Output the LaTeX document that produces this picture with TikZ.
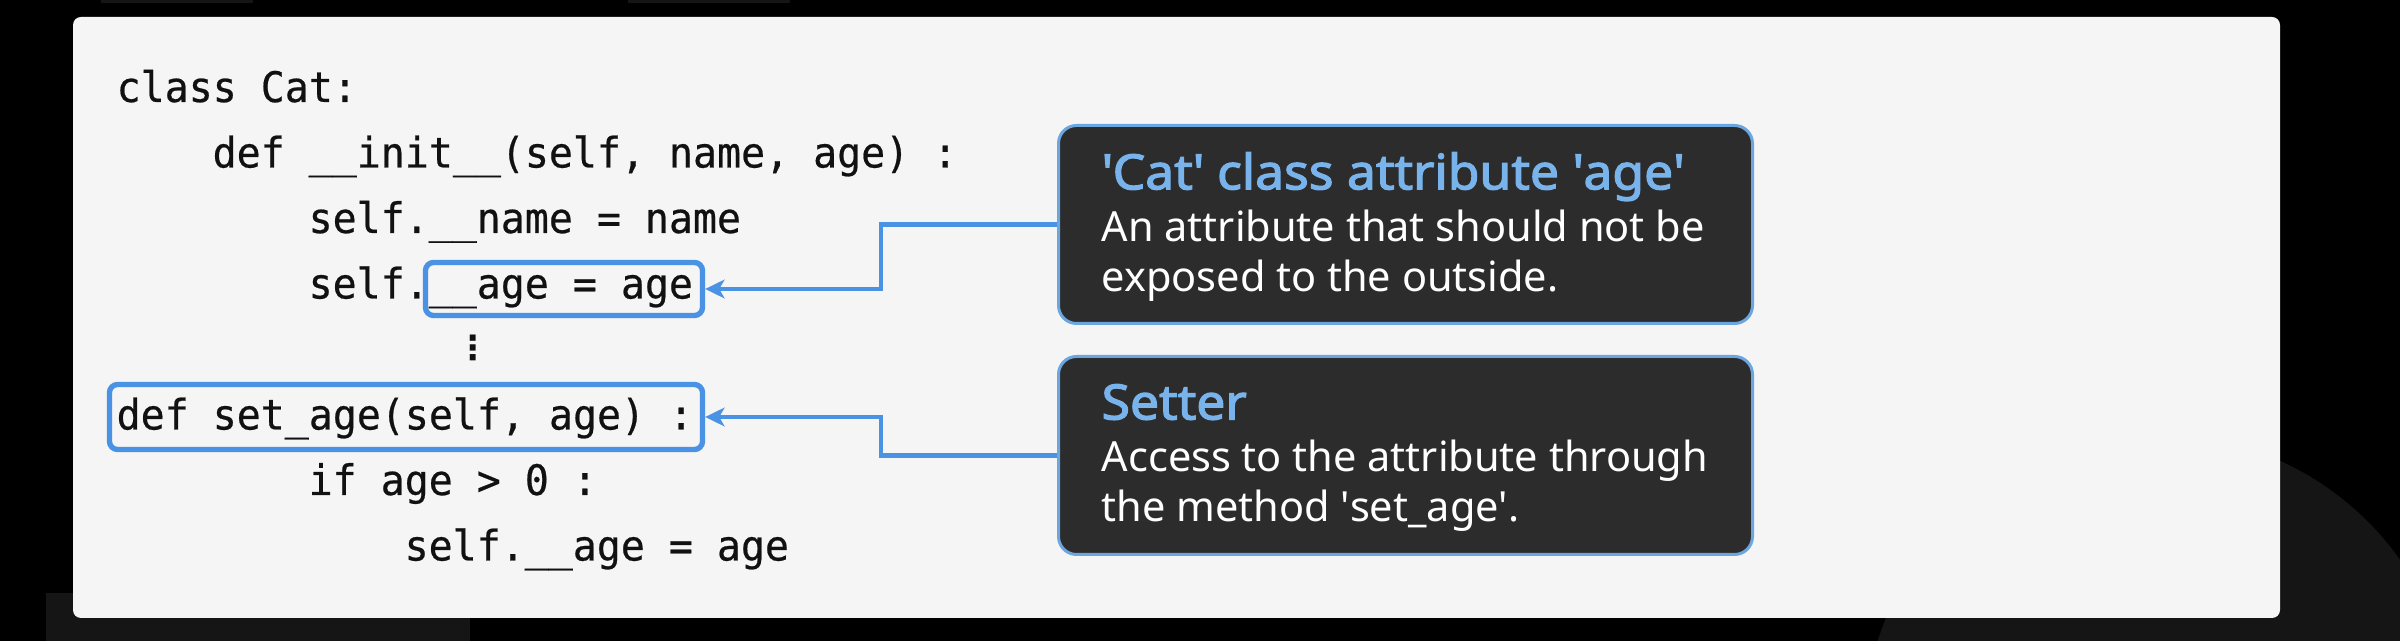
\documentclass[tikz,border=0pt]{standalone}
\usepackage{fontspec}
\usepackage{tikz}
\usetikzlibrary{positioning,arrows.meta}

\newfontfamily\codefont[FakeStretch=0.95,FakeBold=0.5]{DejaVu Sans Mono}
\newfontfamily\notefont{Noto Sans}
\newfontfamily\noteboldfont[FakeBold=2.5,FakeStretch=1.06]{Noto Sans}
\newfontfamily\dotsfont{DejaVu Sans}

\definecolor{panelgray}{HTML}{F5F5F5}
\definecolor{hlblue}{HTML}{4A93E4}
\definecolor{notefill}{HTML}{2C2C2C}
\definecolor{noteedge}{HTML}{6BA6E0}
\definecolor{notetitle}{HTML}{78B3EC}
\definecolor{codeink}{HTML}{111111}
\definecolor{bgdecor}{HTML}{151515}

\newcommand{\notehead}[1]{{\color{notetitle}\noteboldfont\fontsize{14.6}{15}\selectfont #1}}

\tikzset{
  codeline/.style={anchor=base west, inner sep=0pt, text=codeink, font=\codefont\fontsize{12.6}{14}\selectfont},
  hlbox/.style={draw=hlblue, line width=1.6pt, rounded corners=2.4pt, inner sep=0pt},
  note/.style={draw=noteedge, fill=notefill, line width=0.9pt, rounded corners=5.4pt,
    minimum width=208.2pt, minimum height=59.4pt, inner sep=0pt},
  notetext/.style={anchor=west, inner sep=0pt, align=left, text=white, font=\notefont\fontsize{12.45}{15}\selectfont},
  link/.style={draw=hlblue, line width=1.45pt, -{Stealth[length=5.8pt,width=5.6pt,inset=1.6pt]}}
}

\begin{document}
\begin{tikzpicture}[x=0.3pt,y=-0.3pt]
\useasboundingbox (0,0) rectangle (2400,641);
\fill[black] (0,0) rectangle (2400,641);
\fill[bgdecor] (101,0) rectangle (253,3);
\fill[bgdecor] (628,0) rectangle (790,3);
\fill[bgdecor] (46,593) rectangle (470,641);
\fill[bgdecor] (2159,730) circle (88.5pt);

% code panel
\fill[panelgray, rounded corners=2.4pt] (73,17) rectangle (2280,618);

\node[codeline] (l1) at (116,102) {class Cat:};
\node[codeline] (l2) at (212,167.5) {def \_\_init\_\_(self, name, age) :};
\node[codeline] (l3) at (308,233) {self.\_\_name = name};
\node[codeline] (l4) at (308,298.5) {self.\_\_age = age};
\node[inner sep=0pt, text=codeink, font=\dotsfont\bfseries\fontsize{10}{10}\selectfont] (gap) at (473,348) {⋮};
\node[codeline] (l5) at (116,429.5) {def set\_age(self, age) :};
\node[codeline] (l6) at (308,495) {if age > 0 :};
\node[codeline] (l7) at (404,560.5) {self.\_\_age = age};

% highlights
\node[hlbox, minimum width=83.1pt, minimum height=15.9pt] (hlattr) at (564,289) {};
\node[hlbox, minimum width=177.9pt, minimum height=19.5pt] (hlset) at (406,417) {};

% notes
\node[note] (attrnote) at (1405.5,224.5) {};
\node[note, below=9pt of attrnote] (setnote) {};
\node[notetext] (attrtext) at ([xshift=13.2pt,yshift=-0.7pt]attrnote.west)
  {\notehead{\textquotesingle Cat\textquotesingle{} class attribute \textquotesingle age\textquotesingle}\\[0.6pt]
   An attribute that should not be\\ exposed to the outside.};
\node[notetext] (settext) at ([xshift=13.2pt,yshift=-0.7pt]setnote.west)
  {\notehead{Setter}\\[0.6pt]
   Access to the attribute through\\ the method \textquotesingle set\_age\textquotesingle.};

\draw[link] (attrnote.west) -- ++(-176,0) |- (hlattr.east);
\draw[link] (setnote.west) -- ++(-176,0) |- (hlset.east);
\end{tikzpicture}
\end{document}
